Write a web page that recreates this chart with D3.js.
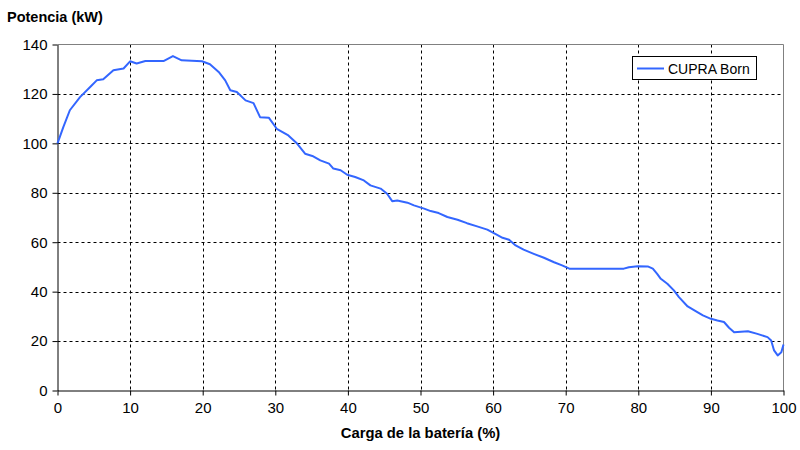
<!DOCTYPE html>
<html><head><meta charset="utf-8">
<script src="https://cdn.jsdelivr.net/npm/d3@7"></script>
<style>body{margin:0;background:#fff}svg{display:block}text{font-family:"Liberation Sans",Arial,sans-serif}</style>
</head><body><svg id="c" width="800" height="450"></svg>
<script>
const seriesName = "CUPRA Born";
const xTicks = [0,10,20,30,40,50,60,70,80,90,100];
const yTicks = [0,20,40,60,80,100,120,140];
const soc = [0,0.8,1.7,3.1,4.5,5.4,6.3,7.7,9.1,10,10.9,12.1,14.6,15.9,17.1,19.9,21,22.2,23.1,23.8,24.7,25.9,27,27.9,29.1,30.2,31.8,33,34.1,35.1,36.2,37.4,38,39,39.9,41,42.2,43.1,44.5,45.4,46.1,46.8,48.2,49.1,50.5,51.4,52.5,53.7,55.1,56.4,57.8,59.2,60.3,61.3,62.2,63.1,64.2,65.6,67,68.4,69.5,70.5,72.1,78,78.7,79.9,81.3,82,82.6,83.1,84,84.9,85.6,86.8,87.9,88.9,90,90.9,91.8,92.5,93.2,95.1,96.4,97.8,98.3,98.7,99.2,99.7,100];
const power = [100,106.6,113.4,118.7,122.8,125.5,125.9,129.6,130.3,133.2,132.3,133.3,133.3,135.3,133.6,133.2,132,128.9,125.5,121.5,120.8,117.4,116.3,110.6,110.4,105.9,103.2,99.9,95.8,94.9,93.1,91.8,89.8,89.1,87.3,86.4,85,83,81.7,79.6,76.6,76.9,76,74.9,73.6,72.6,71.8,70.2,69.1,67.7,66.4,65.1,63.4,61.8,61,58.7,57,55.3,53.7,51.9,50.6,49.3,49.3,49.3,49.9,50.3,50.2,49.3,47.2,45.2,43.2,40.5,37.8,34,32.1,30.4,29,28.3,27.7,25.4,23.6,24,22.9,21.6,20.2,16.2,14.2,15.5,18.6];
const data = soc.map((s,i)=>({x:s,y:power[i]}));

const svg = d3.select("#c");
const L=57.5,R=783.5,T=44.5,B=390.5;
const x = d3.scaleLinear().domain([0,100]).range([L,R]);
const y = d3.scaleLinear().domain([0,140]).range([B,T]);

// grid
const g = svg.append("g");
g.selectAll(".vg").data(xTicks.slice(1,-1)).enter().append("line")
 .attr("x1",d=>Math.round(x(d))+0.5).attr("x2",d=>Math.round(x(d))+0.5).attr("y1",T).attr("y2",B)
 .attr("stroke","#000").attr("stroke-dasharray","3,3");
g.selectAll(".hg").data(yTicks.slice(1,-1)).enter().append("line")
 .attr("y1",d=>Math.round(y(d))+0.5).attr("y2",d=>Math.round(y(d))+0.5).attr("x1",L).attr("x2",R)
 .attr("stroke","#000").attr("stroke-dasharray","3,3");
// top/right border
svg.append("path").attr("d",`M${L},${T}H${R}V${B}`).attr("fill","none").attr("stroke","#808080");

// axes
const xa = svg.append("g").attr("transform",`translate(0,${B})`)
 .call(d3.axisBottom(x).tickValues(xTicks).tickSize(5).tickSizeOuter(0).tickPadding(7));
const ya = svg.append("g").attr("transform",`translate(${L},0)`)
 .call(d3.axisLeft(y).tickValues(yTicks).tickSize(5).tickSizeOuter(0).tickPadding(5));
[xa,ya].forEach(a=>{a.select(".domain").attr("stroke","#000");a.selectAll("line").attr("stroke","#000");
 a.selectAll("text").attr("font-size",15).attr("fill","#000").attr("font-family","Liberation Sans, Arial, sans-serif");});

// line
svg.append("path").datum(data).attr("fill","none").attr("stroke","#3366ff").attr("stroke-width",2)
 .attr("stroke-linejoin","round")
 .attr("d",d3.line().x(d=>x(d.x)).y(d=>y(d.y)));

// titles
svg.append("text").attr("x",7).attr("y",22).attr("font-size",14.5).attr("font-weight","bold").text("Potencia (kW)");
svg.append("text").attr("x",(L+R)/2).attr("y",438).attr("text-anchor","middle").attr("font-size",14.8).attr("font-weight","bold").text("Carga de la batería (%)");

// legend
const lg = svg.append("g");
lg.append("rect").attr("x",632.5).attr("y",56.5).attr("width",124).attr("height",23).attr("fill","#fff").attr("stroke","#000");
lg.append("line").attr("x1",637).attr("x2",664).attr("y1",68.5).attr("y2",68.5).attr("stroke","#3366ff").attr("stroke-width",2);
lg.append("text").attr("x",668).attr("y",73.5).attr("font-size",14).text(seriesName);
</script></body></html>
